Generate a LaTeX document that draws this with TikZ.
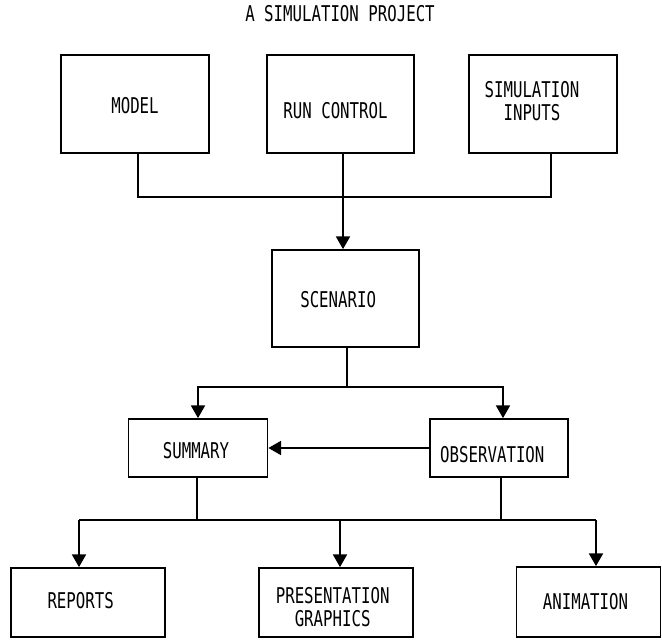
\documentclass[tikz,border=0pt]{standalone}
\usepackage{fontspec}
\setmonofont{DejaVu Sans Mono}
\usetikzlibrary{arrows.meta}
\newcommand\lbl[1]{\scalebox{1}[1.38]{\begin{tabular}{@{}c@{}}#1\end{tabular}}}
\begin{document}
\begin{tikzpicture}[x=0.75pt,y=-0.75pt,
  line width=1.25pt,
  txt/.style={font=\ttfamily\fontsize{11.8}{12.2}\selectfont, inner sep=0pt},
  boxnode/.style={draw, line width=1.3pt, inner sep=0pt},
  arr/.style={-{Triangle[width=10.5pt,length=9.5pt]}},
  ]
\useasboundingbox (0,0) rectangle (662,641);

\node[txt] (title) at (340,17) {\lbl{A SIMULATION PROJECT}};

\node[boxnode, minimum width=111pt, minimum height=73.5pt,
  label={[txt, xshift=0pt, yshift=-3.75pt]center:\lbl{MODEL}}] (model) at (135,104) {};
\node[boxnode, minimum width=110.25pt, minimum height=73.5pt,
  label={[txt, xshift=-3.75pt, yshift=-7.5pt]center:\lbl{RUN CONTROL}}] (run) at (340.5,104) {};
\node[boxnode, minimum width=111pt, minimum height=73.5pt,
  label={[txt, xshift=-8.25pt, yshift=0pt]center:\lbl{SIMULATION\\INPUTS}}] (sim) at (543,104) {};

\node[boxnode, minimum width=110.25pt, minimum height=72.75pt,
  label={[txt, xshift=-5.5pt, yshift=-3.5pt]center:\lbl{SCENARIO}}] (scen) at (345.5,298.5) {};

\node[boxnode, minimum width=104.25pt, minimum height=43.5pt,
  label={[txt, xshift=-1.5pt, yshift=-4.5pt]center:\lbl{SUMMARY}}] (summ) at (198,448) {};
\node[boxnode, minimum width=103.5pt, minimum height=43.5pt,
  label={[txt, xshift=-5pt, yshift=-7.5pt]center:\lbl{OBSERVATION}}] (obs) at (499,448) {};

\node[boxnode, minimum width=115.5pt, minimum height=51.75pt,
  label={[txt, xshift=-5.5pt, yshift=-1pt]center:\lbl{REPORTS}}] (rep) at (88,602.5) {};
\node[boxnode, minimum width=115.5pt, minimum height=51.75pt,
  label={[txt, xshift=-2.5pt, yshift=-6pt]center:\lbl{PRESENTATION\\GRAPHICS}}] (pres) at (336,602.5) {};
\node[boxnode, minimum width=108pt, minimum height=52.5pt,
  label={[txt, xshift=-2.25pt, yshift=-2.25pt]center:\lbl{ANIMATION}}] (anim) at (588.5,602) {};

% top bus
\coordinate (busL) at (138,197);
\coordinate (busM) at (343,197);
\coordinate (busR) at (551,197);
\draw (model.south -| busL) -- (busL) -- (busR) -- (sim.south -| busR);
\draw (run.south -| busM) -- (busM);
\draw[arr] (busM) -- (scen.north -| busM);

% scenario split
\coordinate (sc) at (347,387);
\coordinate (scL) at (198,387);
\coordinate (scR) at (503,387);
\draw (scen.south -| sc) -- (sc);
\draw[arr] (sc) -- (scL) -- (summ.north -| scL);
\draw[arr] (sc) -- (scR) -- (obs.north -| scR);

% observation to summary
\draw[arr] (obs.west) -- (summ.east);

% bottom bus
\coordinate (bS) at (197,520);
\coordinate (bO) at (501,520);
\coordinate (bL) at (79,520);
\coordinate (bM) at (340,520);
\coordinate (bR) at (596,520);
\draw (summ.south -| bS) -- (bS);
\draw (obs.south -| bO) -- (bO);
\draw (bL) -- (bR);
\draw[arr] (bL) -- (rep.north -| bL);
\draw[arr] (bM) -- (pres.north -| bM);
\draw[arr] (bR) -- (anim.north -| bR);
\end{tikzpicture}
\end{document}
